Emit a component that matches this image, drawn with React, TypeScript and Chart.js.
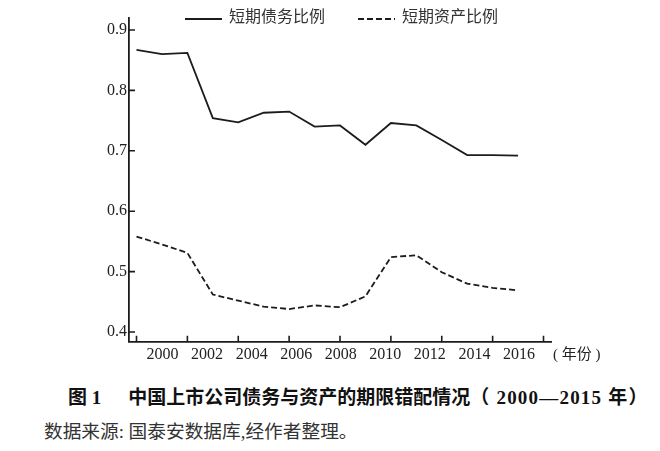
import React, { useEffect, useRef } from "react";
import { Chart, registerables } from "chart.js";

Chart.register(...registerables);

// ---- data ----
const years = [2000, 2001, 2002, 2003, 2004, 2005, 2006, 2007, 2008, 2009, 2010, 2011, 2012, 2013, 2014, 2015];
const debtShortRatio = [0.867, 0.860, 0.862, 0.754, 0.747, 0.763, 0.765, 0.740, 0.742, 0.710, 0.746, 0.742, 0.718, 0.693, 0.693, 0.692];
const assetShortRatio = [0.558, 0.545, 0.531, 0.462, 0.452, 0.442, 0.438, 0.444, 0.441, 0.459, 0.524, 0.527, 0.499, 0.480, 0.473, 0.469];
const seriesNames = ["短期债务比例", "短期资产比例"];
const xTickValues = [2000, 2002, 2004, 2006, 2008, 2010, 2012, 2014, 2016];
const xTickLabels = [2000, 2002, 2004, 2006, 2008, 2010, 2012, 2014, 2016];
const yTickValues = [0.4, 0.5, 0.6, 0.7, 0.8, 0.9];
const unitLabel = "( 年份 )";
const captionFigNo = "图 1";
const captionTitle = "中国上市公司债务与资产的期限错配情况";
const captionPeriod = "（ 2000—2015 年）";
const captionSource = "数据来源: 国泰安数据库,经作者整理。";

const INK = "#1c1c1c";
const TEXT = "#222";
const NUM_FONT = '"Liberation Serif", "Times New Roman", Times, serif';
const CJK_FONT = '"Liberation Serif", "Noto Sans CJK SC", serif';

const decorPlugin = {
  id: "decor",
  afterDraw(chart: any) {
    const ctx = chart.ctx as CanvasRenderingContext2D;
    const xs = chart.scales.x;
    const ys = chart.scales.y;
    const { left, bottom } = chart.chartArea;
    ctx.save();
    // inward tick marks
    ctx.strokeStyle = INK;
    ctx.lineWidth = 1.6;
    ctx.beginPath();
    xTickValues.forEach((v) => {
      const px = xs.getPixelForValue(v);
      ctx.moveTo(px, bottom);
      ctx.lineTo(px, bottom - 6);
    });
    yTickValues.forEach((v) => {
      const py = ys.getPixelForValue(v);
      ctx.moveTo(left, py);
      ctx.lineTo(left + 6, py);
    });
    ctx.stroke();

    // legend
    const legendX = [185, 358];
    const legendY = 19;
    ctx.font = `16px ${CJK_FONT}`;
    ctx.fillStyle = "#333";
    ctx.textBaseline = "middle";
    ctx.textAlign = "left";
    chart.data.datasets.forEach((ds: any, i: number) => {
      const lx = legendX[i];
      ctx.beginPath();
      ctx.lineWidth = 1.8;
      ctx.strokeStyle = ds.borderColor;
      ctx.setLineDash(ds.borderDash || []);
      ctx.moveTo(lx, legendY);
      ctx.lineTo(lx + 37, legendY);
      ctx.stroke();
      ctx.setLineDash([]);
      ctx.fillText(ds.label, lx + 44, legendY - 1);
    });

    // unit label
    ctx.font = `15px ${CJK_FONT}`;
    ctx.fillStyle = TEXT;
    ctx.fillText(unitLabel, 553, 355);
    ctx.restore();
  },
};

export default function App() {
  const canvasRef = useRef<HTMLCanvasElement | null>(null);

  useEffect(() => {
    const canvas = canvasRef.current;
    if (!canvas) return;
    const chart = new Chart(canvas, {
      type: "line",
      data: {
        datasets: [
          {
            label: seriesNames[0],
            data: years.map((yr, i) => ({ x: yr, y: debtShortRatio[i] })),
            borderColor: INK,
            borderWidth: 1.8,
            pointRadius: 0,
            tension: 0,
            fill: false,
            xAxisID: "x",
            yAxisID: "y",
          },
          {
            label: seriesNames[1],
            data: years.map((yr, i) => ({ x: yr, y: assetShortRatio[i] })),
            borderColor: INK,
            borderWidth: 1.8,
            borderDash: [6, 3],
            pointRadius: 0,
            tension: 0,
            fill: false,
            xAxisID: "x",
            yAxisID: "y",
          },
        ],
      },
      options: {
        animation: false,
        responsive: false,
        maintainAspectRatio: false,
        events: [],
        layout: { padding: { top: 18.3, right: 108.3, left: 0, bottom: 0 } },
        plugins: {
          legend: { display: false },
          tooltip: { enabled: false },
        },
        scales: {
          x: {
            type: "linear",
            position: "bottom",
            weight: 0,
            min: 1999.705,
            max: 2016.322,
            ticks: { display: false },
            grid: { drawOnChartArea: false, drawTicks: false },
            border: { display: true, color: INK, width: 1.8 },
            afterFit: (s: any) => {
              s.height = 0;
            },
          },
          xl: {
            type: "linear",
            position: "bottom",
            weight: 1,
            min: 1998.496,
            max: 2017.468,
            afterBuildTicks: (s: any) => {
              s.ticks = xTickLabels.map((v) => ({ value: v }));
            },
            ticks: {
              font: { family: NUM_FONT, size: 16 },
              color: TEXT,
              padding: 3,
              maxRotation: 0,
              autoSkip: false,
              callback: (v: any) => String(v),
            },
            grid: { display: false, drawTicks: false },
            border: { display: false },
            afterFit: (s: any) => {
              s.height = 38.3;
            },
          },
          y: {
            type: "linear",
            min: 0.38394,
            max: 0.91937,
            afterBuildTicks: (s: any) => {
              s.ticks = yTickValues.map((v) => ({ value: v }));
            },
            ticks: {
              font: { family: NUM_FONT, size: 16 },
              color: TEXT,
              padding: 2,
              callback: (v: any) => Number(v).toFixed(1),
            },
            grid: { drawOnChartArea: false, drawTicks: false },
            border: { display: true, color: INK, width: 1.8 },
            afterFit: (s: any) => {
              s.width = 129;
            },
          },
        },
      } as any,
      plugins: [decorPlugin],
    });
    return () => chart.destroy();
  }, []);

  return (
    <div style={{ position: "absolute", left: 0, top: 0, width: 660, height: 451, background: "#fff", overflow: "hidden" }}>
      <canvas ref={canvasRef} width={660} height={380} style={{ display: "block", width: 660, height: 380 }} />
      <div
        style={{
          position: "absolute",
          left: 68,
          top: 386,
          fontFamily: '"Liberation Serif", "Noto Sans CJK SC", serif',
          fontWeight: 700,
          fontSize: 19,
          lineHeight: "24px",
          color: "#111",
          whiteSpace: "nowrap",
        }}
      >
        <span>{captionFigNo}</span>
        <span style={{ marginLeft: 27 }}>{captionTitle}</span>
        <span style={{ letterSpacing: 1.2 }}>{captionPeriod}</span>
      </div>
      <div
        style={{
          position: "absolute",
          left: 44,
          top: 421,
          fontFamily: '"Liberation Serif", "Noto Sans CJK SC", serif',
          fontSize: 18.7,
          lineHeight: "22px",
          color: "#333",
          whiteSpace: "nowrap",
        }}
      >
        {captionSource}
      </div>
    </div>
  );
}
